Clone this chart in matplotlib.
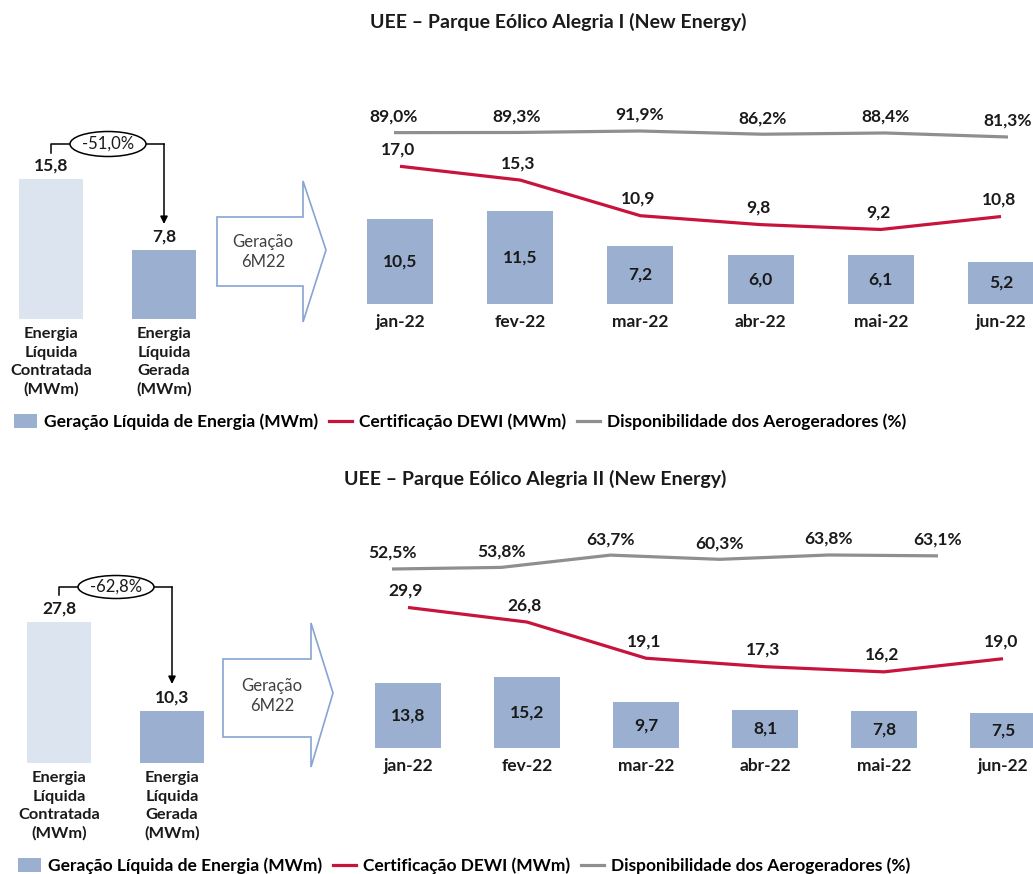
import matplotlib
matplotlib.use('Agg')
import matplotlib.pyplot as plt
from matplotlib.patches import Ellipse, Polygon, Patch
from matplotlib.lines import Line2D
import matplotlib.transforms as mtransforms

plt.rcParams['font.family'] = ['Lato', 'DejaVu Sans']

W, H = 1033, 874
fig = plt.figure(figsize=(W / 100, H / 100), dpi=100)
fig.patch.set_facecolor('white')

# ---------------- data ----------------
months = ['jan-22', 'fev-22', 'mar-22', 'abr-22', 'mai-22', 'jun-22']
left_cats = ['Energia\nLíquida\nContratada\n(MWm)', 'Energia\nLíquida\nGerada\n(MWm)']
legend_labels = ['Geração Líquida de Energia (MWm)', 'Certificação DEWI (MWm)',
                 'Disponibilidade dos Aerogeradores (%)']
arrow_text = 'Geração\n6M22'

a1_title = 'UEE – Parque Eólico Alegria I (New Energy)'
a1_contract = [15.8, 7.8]
a1_var = '-51,0%'
a1_gen = [10.5, 11.5, 7.2, 6.0, 6.1, 5.2]
a1_dewi = [17.0, 15.3, 10.9, 9.8, 9.2, 10.8]
a1_avail = [89.0, 89.3, 91.9, 86.2, 88.4, 81.3]

a2_title = 'UEE – Parque Eólico Alegria II (New Energy)'
a2_contract = [27.8, 10.3]
a2_var = '-62,8%'
a2_gen = [13.8, 15.2, 9.7, 8.1, 7.8, 7.5]
a2_dewi = [29.9, 26.8, 19.1, 17.3, 16.2, 19.0]
a2_avail = [52.5, 53.8, 63.7, 60.3, 63.8, 63.1]

# ---------------- style ----------------
C_LIGHT = '#dce4ef'
C_BAR = '#9bb0d0'
C_RED = '#c8143c'
C_GRAY = '#8f8f8f'
C_ARROW = '#86a4d4'
C_TXT = '#1a1a1a'
FS = 12
FS_VAL = 12.5
FS_CAT = 11.8
FS_LEG = 12.5
FS_TITLE = 14


def fmt(v, pct=False):
    s = f'{v:.1f}'.replace('.', ',')
    return s + '%' if pct else s


def make_ax(x0, x1, y_top, y_bot, c0, step, ylim):
    ax = fig.add_axes([x0 / W, 1 - y_bot / H, (x1 - x0) / W, (y_bot - y_top) / H])
    ax.set_facecolor('none')
    for s in ax.spines.values():
        s.set_visible(False)
    ax.set_yticks([])
    ax.set_xlim((x0 - c0) / step, (x1 - c0) / step)
    ax.set_ylim(*ylim)
    ax.set_xticks([])
    return ax


# overlay in pixel coordinates for decorations
ov = fig.add_axes([0, 0, 1, 1])
ov.set_xlim(0, W)
ov.set_ylim(H, 0)
ov.set_axis_off()
ov.set_facecolor('none')


def panel(title, title_xy, contract, var, gen, dewi, avail, L, M, G, arrow_pts, arrow_txt_xy,
          conn, legend_xy):
    fig.text(title_xy[0] / W, 1 - title_xy[1] / H, title, ha='center', va='center',
             fontsize=FS_TITLE, fontweight='bold', color=C_TXT)

    # left comparison bars
    axL = make_ax(0, 215, L['top'], L['base'], L['c0'], L['step'],
                  (0, (L['base'] - L['top']) / L['k']))
    axL.bar(range(len(contract)), contract, width=0.56, color=[C_LIGHT, C_BAR])
    for i, v in enumerate(contract):
        axL.annotate(fmt(v), (i, v), xytext=(0, 13), textcoords='offset pixels',
                     ha='center', va='center', fontsize=FS_VAL, fontweight='bold', color=C_TXT)
    axL.set_xticks(range(len(left_cats)), left_cats, fontsize=FS_CAT, fontweight='bold',
                   color=C_TXT, linespacing=1.38)
    axL.tick_params(axis='x', length=0, pad=6)

    # connector with variation ellipse
    tr = mtransforms.blended_transform_factory(axL.transData, ov.transData)
    y_h = conn['y']
    ov.plot([0, 0, 0.19], [conn['y0'], y_h, y_h], color='black', lw=1.1, transform=tr)
    ov.add_patch(Ellipse((conn['ex'], y_h), conn['ew'], conn['eh'], facecolor='white',
                         edgecolor='black', lw=1.1, zorder=3))
    ov.text(conn['ex'], y_h, var, ha='center', va='center', fontsize=FS, color=C_TXT, zorder=4)
    ov.plot([0.82, 1], [y_h, y_h], color='black', lw=1.1, transform=tr)
    ov.annotate('', xy=(1, conn['y1']), xytext=(1, y_h), xycoords=tr, textcoords=tr,
                arrowprops=dict(arrowstyle='-|>', color='black', lw=1.1,
                                mutation_scale=11, shrinkA=0, shrinkB=0))

    # block arrow
    ov.add_patch(Polygon(arrow_pts, closed=True, facecolor='white', edgecolor=C_ARROW, lw=1.2))
    ov.text(arrow_txt_xy[0], arrow_txt_xy[1], arrow_text, ha='center', va='center',
            fontsize=FS, color='#404040', linespacing=1.3)

    # monthly bars + DEWI line
    ax = make_ax(340, 1033, M['top'], M['base'], M['c0'], M['step'],
                 (0, (M['base'] - M['top']) / M['k']))
    x = list(range(len(months)))
    ax.bar(x, gen, width=0.55, color=C_BAR, zorder=2)
    for i, v in enumerate(gen):
        ax.text(i, v / 2, fmt(v), ha='center', va='center', fontsize=FS_VAL,
                fontweight='bold', color=C_TXT, zorder=4)
    ax.plot(x, dewi, color=C_RED, lw=2.3, zorder=3, solid_capstyle='butt')
    for i, v in enumerate(dewi):
        ax.annotate(fmt(v), (i, v), xytext=(-2, 17), textcoords='offset pixels',
                    ha='center', va='center', fontsize=FS_VAL, fontweight='bold', color=C_TXT)
    ax.set_xticks(x, months, fontsize=FS_VAL, fontweight='bold', color=C_TXT)
    ax.tick_params(axis='x', length=0, pad=7)

    # availability line (own scale)
    axG = make_ax(340, 1033, G['top'], G['bot'], G['c0'], G['step'], G['ylim'])
    axG.plot(x, avail, color=C_GRAY, lw=2.3, solid_capstyle='butt')
    for i, v in enumerate(avail):
        axG.annotate(fmt(v, True), (i, v), xytext=(0, 16), textcoords='offset pixels',
                     ha='center', va='center', fontsize=FS_VAL, fontweight='bold', color=C_TXT)

    handles = [Patch(facecolor=C_BAR, edgecolor='none'),
               Line2D([], [], color=C_RED, lw=2.3),
               Line2D([], [], color=C_GRAY, lw=2.3)]
    fig.legend(handles, legend_labels, loc='center left',
               bbox_to_anchor=(legend_xy[0] / W, 1 - legend_xy[1] / H), ncol=3,
               frameon=False, handlelength=1.35, handleheight=0.9,
               handletextpad=0.4, columnspacing=0.6, borderaxespad=0, borderpad=0,
               prop=dict(weight='bold', size=FS_LEG))


panel(a1_title, (558, 22), a1_contract, a1_var, a1_gen, a1_dewi, a1_avail,
      L=dict(top=100, base=319, c0=51, step=113, k=140 / 15.8),
      M=dict(top=100, base=304, c0=400, step=120.2, k=8.1),
      G=dict(top=100, bot=200, c0=394, step=122.8, ylim=(81.3 - 63 / 0.566, 81.3 + 37 / 0.566)),
      arrow_pts=[(217, 217), (303, 217), (303, 181), (326, 250), (303, 322), (303, 286), (217, 286)],
      arrow_txt_xy=(263, 252),
      conn=dict(y0=153, y=144, y1=224, ex=108, ew=76, eh=25),
      legend_xy=(14, 422))

panel(a2_title, (535, 479), a2_contract, a2_var, a2_gen, a2_dewi, a2_avail,
      L=dict(top=560, base=763, c0=59, step=113, k=141 / 27.8),
      M=dict(top=520, base=748, c0=408, step=119, k=4.7),
      G=dict(top=500, bot=650, c0=392, step=109.2, ylim=(52.5 - 81 / 1.24, 52.5 + 69 / 1.24)),
      arrow_pts=[(223, 659), (311, 659), (311, 623), (333, 693), (311, 767), (311, 737), (223, 737)],
      arrow_txt_xy=(272, 696),
      conn=dict(y0=595, y=587, y1=684, ex=116, ew=76, eh=23),
      legend_xy=(18, 866))

fig.savefig('out.png', dpi=100, facecolor='white')
